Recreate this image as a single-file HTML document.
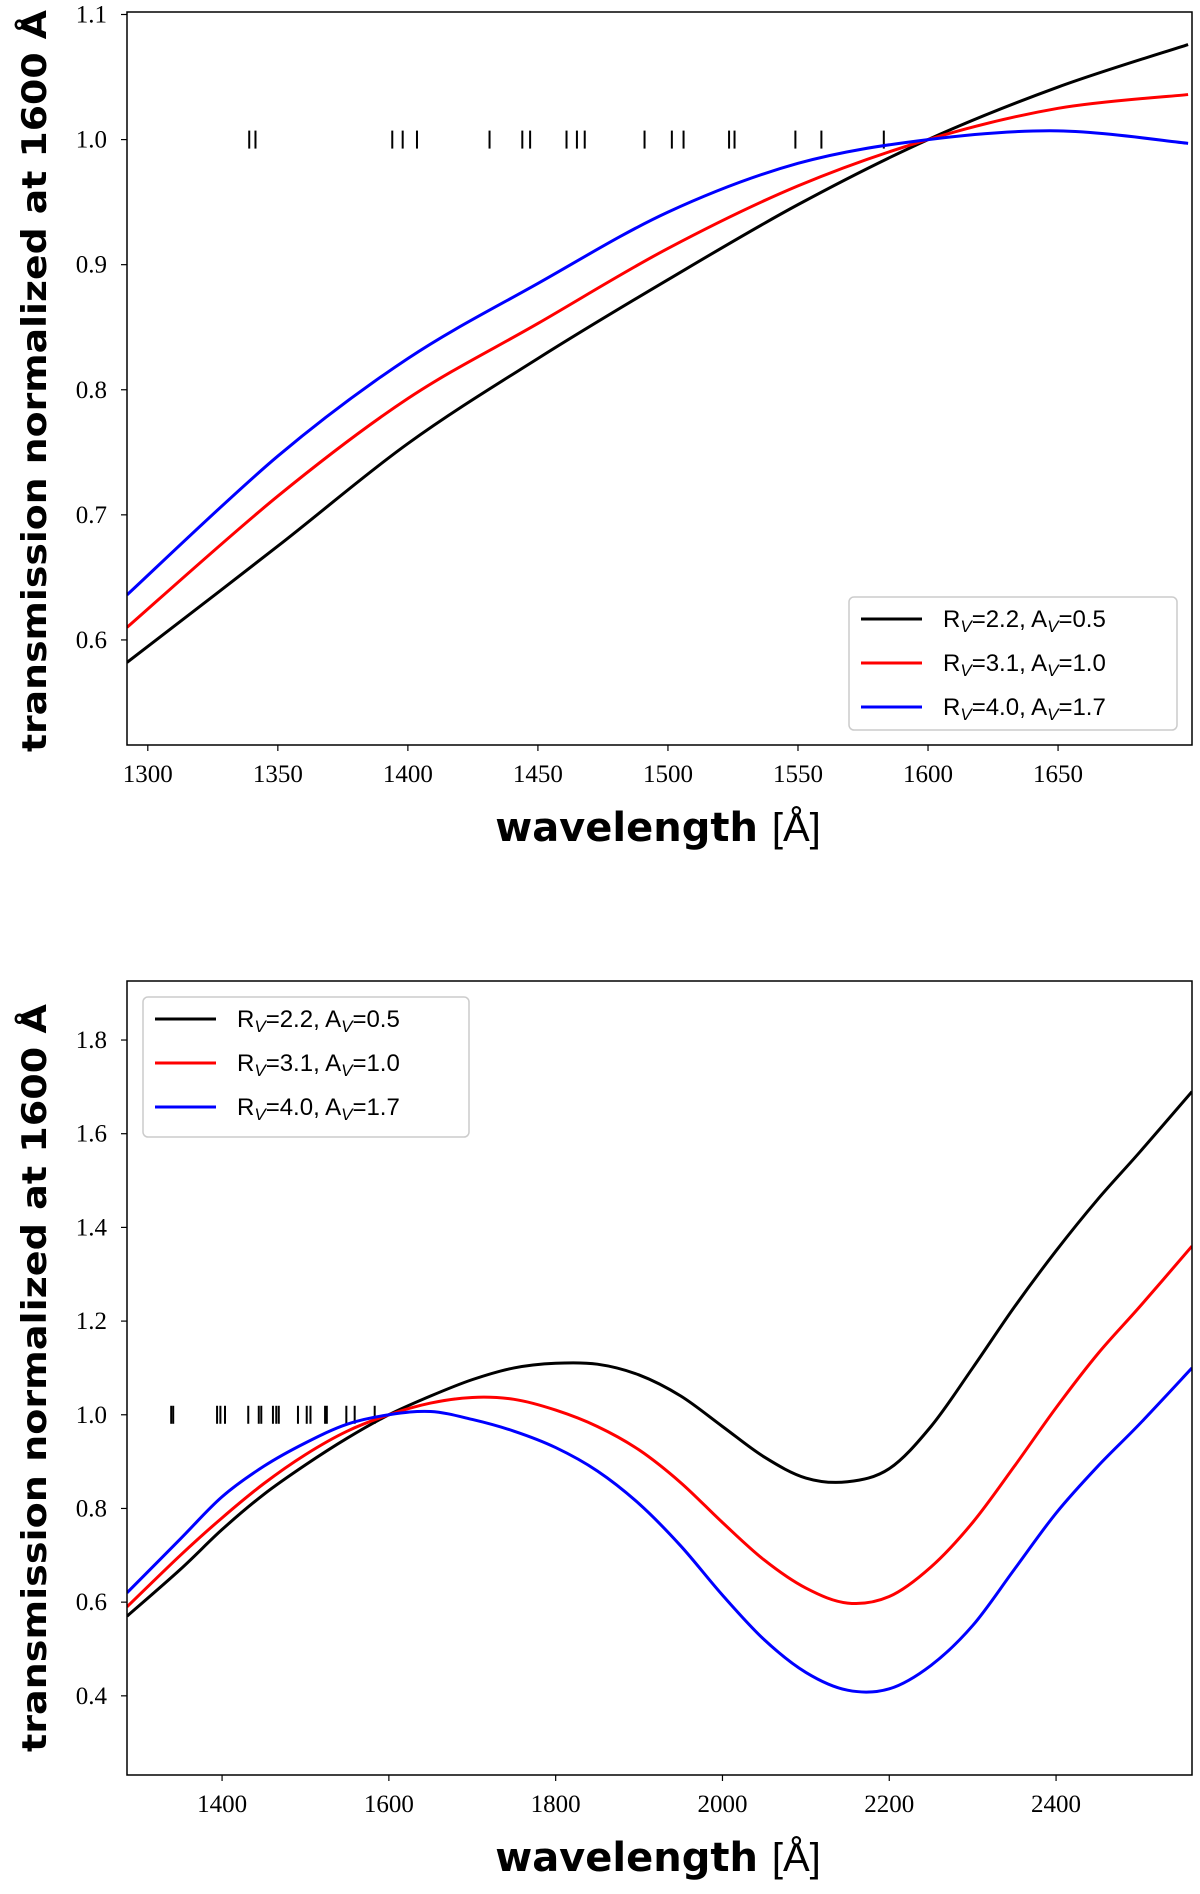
<!DOCTYPE html>
<html><head><meta charset="utf-8"><style>
body{margin:0;background:#fff}
</style></head><body>
<svg id="s" width="1200" height="1889" xmlns="http://www.w3.org/2000/svg"></svg>
<script>
const seriesNames=["R_V=2.2, A_V=0.5","R_V=3.1, A_V=1.0","R_V=4.0, A_V=1.7"];
const seriesColors=["#000000","#ff0000","#0000ff"];
const lineWl=[1339,1341.4,1394,1398,1403.5,1431.4,1444,1447,1461,1465,1468,1491,1501.5,1506,1523.5,1525.6,1549,1559,1583];
const topWl=[1292,1350,1400,1450,1500,1550,1600,1650,1700];
const topBlack=[0.582,0.675,0.757,0.825,0.888,0.948,1.0,1.042,1.076];
const topRed=[0.61,0.715,0.793,0.853,0.913,0.963,1.0,1.025,1.036];
const topBlue=[0.636,0.747,0.825,0.885,0.942,0.981,1.0,1.007,0.997];
const botWl=[1286,1350,1400,1450,1500,1550,1600,1650,1700,1750,1800,1850,1900,1950,2000,2050,2100,2150,2200,2250,2300,2350,2400,2450,2500,2563];
const botBlack=[0.57,0.67,0.755,0.83,0.893,0.95,1.0,1.04,1.075,1.10,1.11,1.108,1.085,1.04,0.975,0.91,0.865,0.857,0.885,0.975,1.1,1.23,1.35,1.46,1.56,1.69];
const botRed=[0.59,0.70,0.78,0.853,0.915,0.965,1.0,1.025,1.037,1.033,1.01,0.975,0.925,0.855,0.77,0.69,0.63,0.598,0.612,0.675,0.77,0.89,1.015,1.13,1.23,1.36];
const botBlue=[0.62,0.735,0.825,0.89,0.94,0.98,1.0,1.007,0.99,0.965,0.93,0.88,0.81,0.72,0.615,0.52,0.45,0.412,0.415,0.465,0.55,0.67,0.79,0.89,0.98,1.10];
const topXTicks=[1300,1350,1400,1450,1500,1550,1600,1650];
const topYTicks=[0.6,0.7,0.8,0.9,1.0,1.1];
const botXTicks=[1400,1600,1800,2000,2200,2400];
const botYTicks=[0.4,0.6,0.8,1.0,1.2,1.4,1.6,1.8];

const NS="http://www.w3.org/2000/svg";
const svg=document.getElementById('s');
function mk(t,a,p){const e=document.createElementNS(NS,t);for(const k in a)e.setAttribute(k,a[k]);(p||svg).appendChild(e);return e;}
function smooth(pts){let d="M"+pts[0][0]+","+pts[0][1];for(let i=0;i<pts.length-1;i++){const p0=pts[Math.max(i-1,0)],p1=pts[i],p2=pts[i+1],p3=pts[Math.min(i+2,pts.length-1)];const c1=[p1[0]+(p2[0]-p0[0])/6,p1[1]+(p2[1]-p0[1])/6],c2=[p2[0]-(p3[0]-p1[0])/6,p2[1]-(p3[1]-p1[1])/6];d+=" C"+c1+" "+c2+" "+p2;}return d;}
function legendLabel(g,x,y,name){
  const m=name.match(/R_V=([\d.]+), A_V=([\d.]+)/);
  const t=mk('text',{x:x,y:y,'font-size':24,style:'font-family:"Liberation Sans",sans-serif'},g);
  t.innerHTML='R<tspan font-size="17" font-style="italic" dy="5">V</tspan><tspan dy="-5">='+m[1]+', A</tspan><tspan font-size="17" font-style="italic" dy="5">V</tspan><tspan dy="-5">='+m[2]+'</tspan>';
  
  
}
function chart(o){
  const g=mk('g',{});
  
  
  const X=v=>o.L+(v-o.x0)/(o.x1-o.x0)*(o.R-o.L);
  const Y=v=>o.B-(v-o.y0)/(o.y1-o.y0)*(o.B-o.T);
  const clip=mk('clipPath',{id:o.name+'-clip'},g);mk('rect',{x:o.L,y:o.T,width:o.R-o.L,height:o.B-o.T},clip);
  const pg=mk('g',{'clip-path':'url(#'+o.name+'-clip)'},g);
  lineWl.forEach(w=>{const l=mk('line',{x1:X(w),x2:X(w),y1:Y(1)-9,y2:Y(1)+9,stroke:'#000','stroke-width':2},pg);
    
    });
  o.series.forEach((s,i)=>{const p=mk('path',{d:smooth(o.wl.map((w,j)=>[X(w),Y(s[j])])),fill:'none',stroke:seriesColors[i],'stroke-width':3},pg);
    
    });
  const fr=mk('rect',{x:o.L,y:o.T,width:o.R-o.L,height:o.B-o.T,fill:'none',stroke:'#000','stroke-width':1.5},g);
  
  
  o.xt.forEach(v=>{mk('line',{x1:X(v),x2:X(v),y1:o.B,y2:o.B+6,stroke:'#000','stroke-width':1.2},g);
    const t=mk('text',{x:X(v),y:o.B+37,'font-size':25,'text-anchor':'middle',style:'font-family:"Liberation Serif",serif'},g);t.textContent=v;
    
    });
  o.yt.forEach(v=>{mk('line',{x1:o.L-6,x2:o.L,y1:Y(v),y2:Y(v),stroke:'#000','stroke-width':1.2},g);
    const t=mk('text',{x:o.L-20,y:Y(v)+8,'font-size':25,'text-anchor':'end',style:'font-family:"Liberation Serif",serif'},g);t.textContent=v.toFixed(1);
    
    });
  const xl=mk('text',{x:658,y:o.B+96,'font-size':40,'text-anchor':'middle','font-weight':'bold',style:'font-family:"DejaVu Sans",sans-serif'},g);
  xl.innerHTML='wavelength <tspan font-weight="normal" style="font-family:\'Liberation Sans\',sans-serif">[Å]</tspan>';
  
  
  const yc=(o.ly0+o.ly1)/2;
  const yl=mk('text',{x:0,y:0,'font-size':34,'text-anchor':'middle','font-weight':'bold',style:'font-family:"DejaVu Sans",sans-serif',transform:'translate(46,'+yc+') rotate(-90)',textLength:o.ly1-o.ly0,lengthAdjust:'spacingAndGlyphs'},g);
  yl.textContent='transmission normalized at 1600 Å';
  
  
  const lg=mk('g',{},g);
  
  
  mk('rect',{x:o.lx,y:o.ly,width:o.lw,height:o.lh,rx:5,fill:'#fff',stroke:'#ccc','stroke-width':1.5},lg);
  seriesNames.forEach((n,i)=>{const ey=o.ly+22+i*44;
    mk('line',{x1:o.lx+12,x2:o.lx+73,y1:ey,y2:ey,stroke:seriesColors[i],'stroke-width':3},lg);
    legendLabel(lg,o.lx+94,ey+8,n);});
}
chart({name:'top-chart',L:127,R:1192,T:12,B:745,x0:1292,x1:1701.5,y0:0.516,y1:1.102,wl:topWl,series:[topBlack,topRed,topBlue],xt:topXTicks,yt:topYTicks,ly0:10,ly1:752,lx:849,ly:597,lw:328,lh:133});
chart({name:'bottom-chart',L:127,R:1192,T:981,B:1775,x0:1286,x1:2563,y0:0.231,y1:1.926,wl:botWl,series:[botBlack,botRed,botBlue],xt:botXTicks,yt:botYTicks,ly0:1004,ly1:1752,lx:143,ly:997,lw:326,lh:140});
</script>
</body></html>
